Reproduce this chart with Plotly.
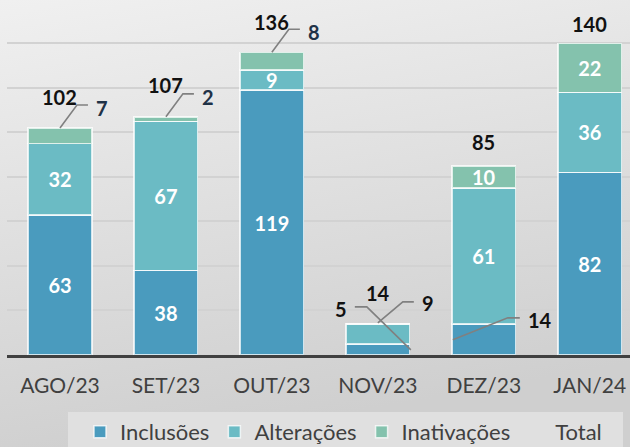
import base64
import plotly.graph_objects as go

months = ["AGO/23", "SET/23", "OUT/23", "NOV/23", "DEZ/23", "JAN/24"]
inclusoes = [63, 38, 119, 5, 14, 82]
alteracoes = [32, 67, 9, 9, 61, 36]
inativacoes = [7, 2, 8, 0, 10, 22]
totals = [a + b + c for a, b, c in zip(inclusoes, alteracoes, inativacoes)]

# labels that are drawn outside the bar with a leader line (month index)
callouts_inc = [3, 4]
callouts_alt = [3]
callouts_inat = [0, 1, 2, 3]

C_INC = "#4A9BBE"
C_ALT = "#6BBBC4"
C_INAT = "#84C2AD"
FONT = "Lato"
W, H = 630, 447
ML, MR, MT, MB = 7, 0, 0, 92
PW, PH = W - ML - MR, H - MT - MB


def inside_text(vals, skip):
    return ["" if (i in skip or v == 0) else str(v) for i, v in enumerate(vals)]


fig = go.Figure()
for name, vals, col, skip in [
    ("Inclusões", inclusoes, C_INC, callouts_inc),
    ("Alterações", alteracoes, C_ALT, callouts_alt),
    ("Inativações", inativacoes, C_INAT, callouts_inat),
]:
    fig.add_trace(go.Bar(
        x=months, y=vals, name=name, width=0.6,
        marker=dict(color=col, line=dict(color="rgba(255,255,255,0.75)", width=1.5)),
        text=inside_text(vals, skip), textposition="inside",
        insidetextanchor="middle", constraintext="none", textangle=0,
        textfont=dict(family=FONT, size=20, color="white", weight="bold"),
        hoverinfo="skip",
    ))

# Total: legend entry only (labels drawn as annotations)
fig.add_trace(go.Scatter(
    x=months, y=totals, name="Total", mode="markers",
    marker=dict(color="rgba(0,0,0,0)", size=1), hoverinfo="skip",
))

annotations = []
total_shift = [31, 32, 30, 31, 24, 19]
for i, (m, t) in enumerate(zip(months, totals)):
    annotations.append(dict(x=m, y=t, text=str(t), showarrow=False, yshift=total_shift[i],
                            font=dict(family=FONT, size=20, color="#111111", weight="bold")))

shapes = []
LINE = dict(color="#808080", width=1.6)


def leader(xm, yv, pts):
    path = "M" + " L".join(f"{px},{py}" for px, py in pts)
    shapes.append(dict(type="path", xref="x", yref="y", xsizemode="pixel", ysizemode="pixel",
                       xanchor=xm, yanchor=yv, path=path, line=LINE))


def callout_label(xm, yv, dx, dy, text, color):
    annotations.append(dict(x=xm, y=yv, text=text, showarrow=False, xshift=dx, yshift=dy,
                            font=dict(family=FONT, size=20, color=color, weight="bold")))


# Inativações small callouts
for i in callouts_inat:
    if inativacoes[i] == 0:
        continue
    leader(months[i], totals[i], [(0, 0), (17, 23), (28, 23)])
    callout_label(months[i], totals[i], 42, 20, str(inativacoes[i]), "#1F3247")

# NOV/23 Inclusões
i = 3
leader(months[i], inclusoes[i], [(-23, 37), (-11, 37), (33, -6)])
callout_label(months[i], inclusoes[i], -37, 35, str(inclusoes[i]), "#111111")
# NOV/23 Alterações
leader(months[i], inclusoes[i] + alteracoes[i], [(0, 1), (25, 22), (36, 22)])
callout_label(months[i], inclusoes[i] + alteracoes[i], 50, 21, str(alteracoes[i]), "#111111")
# DEZ/23 Inclusões
i = 4
leader(months[i], inclusoes[i], [(-31, -16), (24, 6), (36, 6)])
callout_label(months[i], inclusoes[i], 56, 4, str(inclusoes[i]), "#111111")

# legend background box
shapes.append(dict(type="rect", xref="paper", yref="paper", layer="below",
                   x0=(68 - ML) / PW, x1=(623 - ML) / PW,
                   y0=-(H - MT - PH + 10) / PH, y1=-(412 - MT - PH) / PH,
                   line=dict(width=0), fillcolor="#E0E0E0"))

svg = (
    f'<svg xmlns="http://www.w3.org/2000/svg" width="{W}" height="{H}">'
    '<defs><linearGradient id="g" x1="0" y1="0" x2="0.25" y2="1">'
    '<stop offset="0" stop-color="#F0F0F0"/><stop offset="1" stop-color="#CFCFCF"/>'
    '</linearGradient></defs>'
    f'<rect width="{W}" height="{H}" fill="url(#g)"/></svg>'
)
src = "data:image/svg+xml;base64," + base64.b64encode(svg.encode()).decode()

fig.update_layout(
    width=W, height=H,
    margin=dict(l=ML, r=MR, t=MT, b=MB, pad=0, autoexpand=False),
    barmode="stack",
    paper_bgcolor="rgba(0,0,0,0)", plot_bgcolor="rgba(0,0,0,0)",
    font=dict(family=FONT, size=21, color="#404040"),
    images=[dict(source=src, xref="paper", yref="paper", x=-ML / PW, y=1 + MT / PH,
                 sizex=W / PW, sizey=H / PH, sizing="stretch", xanchor="left",
                 yanchor="top", layer="below")],
    xaxis=dict(range=[-0.5, 5.38], showline=True, linecolor="#404040", linewidth=3,
               showgrid=False, ticks="", ticklabelstandoff=10, automargin=False,
               tickfont=dict(family=FONT, size=21, color="#404040")),
    yaxis=dict(range=[0, 159.5], dtick=20, showgrid=True, gridcolor="#D2D2D2",
               gridwidth=2, showticklabels=False, zeroline=False, showline=False,
               automargin=False),
    legend=dict(orientation="h", x=(80 - ML) / PW, xanchor="left",
                y=-(432 - PH) / PH, yanchor="middle", bgcolor="rgba(0,0,0,0)",
                font=dict(family=FONT, size=22, color="#404040"), traceorder="normal"),
    showlegend=True,
    annotations=annotations,
    shapes=shapes,
)

fig.write_html(
    "out.html",
    config={"displayModeBar": False},
    post_script="document.body.style.margin='0';document.body.style.overflow='hidden';",
)
